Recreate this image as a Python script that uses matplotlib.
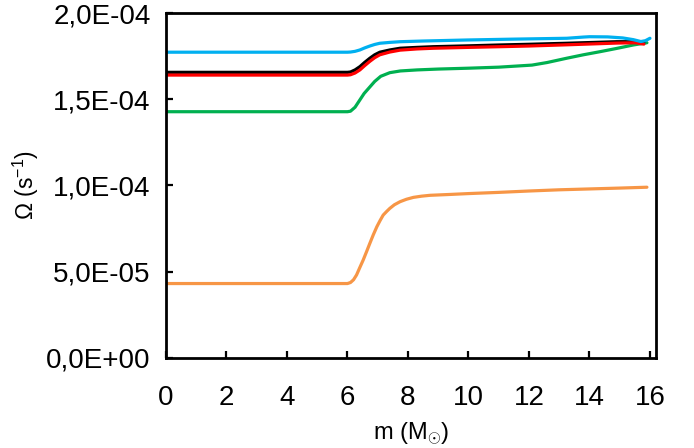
import matplotlib
matplotlib.use("Agg")
import matplotlib.pyplot as plt

plt.rcParams['font.family'] = ['Liberation Sans', 'DejaVu Sans']
plt.rcParams['mathtext.fontset'] = 'custom'
plt.rcParams['mathtext.rm'] = 'Liberation Sans'
plt.rcParams['mathtext.it'] = 'Liberation Sans'

# ---- data ----
m_orange = [0, 6.0, 6.1, 6.2, 6.3, 6.4, 6.52, 6.63, 6.74, 6.85, 6.97, 7.08, 7.18, 7.3, 7.4, 7.55, 7.74,
            7.95, 8.18, 8.45, 8.73, 9.39, 10, 11, 12, 13, 14, 15, 15.9]
omega_orange = [4.3e-5, 4.3e-5, 4.36e-5, 4.52e-5, 4.8e-5, 5.2e-5, 5.67e-5, 6.15e-5, 6.64e-5, 7.12e-5,
                7.6e-5, 7.97e-5, 8.28e-5, 8.5e-5, 8.67e-5, 8.88e-5, 9.06e-5, 9.2e-5, 9.31e-5, 9.38e-5,
                9.43e-5, 9.48e-5, 9.53e-5, 9.6e-5, 9.68e-5, 9.75e-5, 9.8e-5, 9.85e-5, 9.9e-5]

m_green = [0, 6.0, 6.1, 6.25, 6.4, 6.55, 6.75, 6.9, 7.1, 7.4, 7.75, 8.3, 9, 10, 11, 12.1, 12.6, 13.25,
           13.8, 14.35, 14.9, 15.45, 15.9]
omega_green = [1.429e-4, 1.429e-4, 1.432e-4, 1.455e-4, 1.495e-4, 1.535e-4, 1.575e-4, 1.605e-4,
               1.635e-4, 1.656e-4, 1.666e-4, 1.672e-4, 1.677e-4, 1.682e-4, 1.688e-4, 1.70e-4,
               1.715e-4, 1.74e-4, 1.76e-4, 1.778e-4, 1.797e-4, 1.817e-4, 1.83e-4]

m_black = [0, 6.0, 6.1, 6.25, 6.41, 6.57, 6.74, 6.9, 7.07, 7.4, 7.74, 8.3, 8.84, 10, 11.04, 12, 13.25,
           14.9, 15.5, 15.8]
omega_black = [1.658e-4, 1.658e-4, 1.66e-4, 1.672e-4, 1.691e-4, 1.716e-4, 1.740e-4, 1.76e-4,
               1.775e-4, 1.788e-4, 1.798e-4, 1.803e-4, 1.807e-4, 1.812e-4, 1.817e-4, 1.821e-4,
               1.827e-4, 1.836e-4, 1.836e-4, 1.832e-4]

m_red = [0, 6.0, 6.1, 6.25, 6.41, 6.57, 6.74, 6.9, 7.07, 7.4, 7.74, 8.3, 8.84, 10, 11.04, 12, 13.25,
         14.9, 15.5, 15.8]
omega_red = [1.642e-4, 1.642e-4, 1.644e-4, 1.654e-4, 1.672e-4, 1.697e-4, 1.722e-4, 1.743e-4,
             1.76e-4, 1.776e-4, 1.787e-4, 1.794e-4, 1.798e-4, 1.803e-4, 1.807e-4, 1.811e-4,
             1.818e-4, 1.828e-4, 1.83e-4, 1.822e-4]

m_cyan = [0, 6.0, 6.1, 6.25, 6.41, 6.57, 6.74, 6.9, 7.07, 7.4, 7.74, 8.5, 9.95, 11.5, 13.25, 13.8,
          14.0, 14.6, 15.1, 15.45, 15.7, 15.85, 16.0]
omega_cyan = [1.775e-4, 1.775e-4, 1.776e-4, 1.78e-4, 1.788e-4, 1.80e-4, 1.811e-4, 1.82e-4,
              1.827e-4, 1.832e-4, 1.836e-4, 1.84e-4, 1.846e-4, 1.851e-4, 1.856e-4, 1.863e-4,
              1.865e-4, 1.864e-4, 1.858e-4, 1.848e-4, 1.837e-4, 1.842e-4, 1.856e-4]

x_ticks = [0, 2, 4, 6, 8, 10, 12, 14, 16]
y_ticks = [0.0, 5e-5, 1e-4, 1.5e-4, 2e-4]
y_tick_labels = ['0,0E+00', '5,0E-05', '1,0E-04', '1,5E-04', '2,0E-04']

fig = plt.figure(figsize=(6.94, 4.48), dpi=100)
ax = fig.add_axes([166/694, 1-357.5/448, (656-166)/694, (357.5-13.5)/448])

lw = 2.3
ax.plot(m_orange, omega_orange, color='#F79646', lw=lw, solid_capstyle='round', solid_joinstyle='round')
ax.plot(m_green, omega_green, color='#00B050', lw=lw, solid_capstyle='round', solid_joinstyle='round')
ax.plot(m_black, omega_black, color='black', lw=lw, solid_capstyle='round', solid_joinstyle='round')
ax.plot(m_red, omega_red, color='#FF0000', lw=lw, solid_capstyle='round', solid_joinstyle='round')
ax.plot(m_cyan, omega_cyan, color='#00B0F0', lw=lw, solid_capstyle='round', solid_joinstyle='round')

ax.set_xlim(0, 16.2)
ax.set_ylim(0, 2e-4)
ax.set_xticks(x_ticks)
ax.set_xticklabels([str(t) for t in x_ticks])
ax.set_yticks(y_ticks)
ax.set_yticklabels(y_tick_labels)

for s in ax.spines.values():
    s.set_linewidth(2.0)
ax.tick_params(direction='in', length=5, width=1.6, labelsize=20)
ax.tick_params(axis='x', pad=20)
ax.tick_params(axis='y', pad=11)

ax.set_xlabel(r'm (M$_{\odot}$)', fontsize=17, labelpad=6)
ax.set_ylabel(r'Ω (s$^{\mathregular{-1}}$)', fontsize=16.5, labelpad=4)

fig.savefig('out.png', dpi=100)
